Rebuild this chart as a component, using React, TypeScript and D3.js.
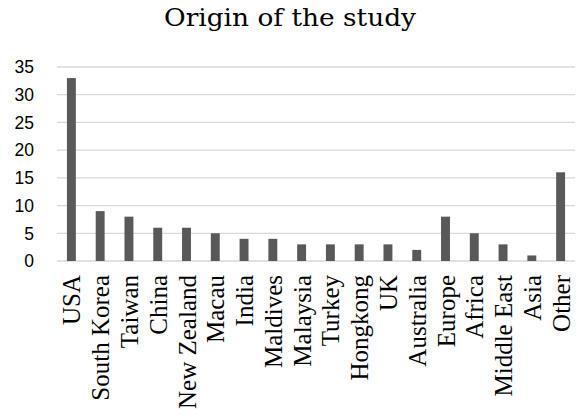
import React from "react";
import * as d3 from "d3";

const categories = [
  "USA", "South Korea", "Taiwan", "China", "New Zealand", "Macau", "India",
  "Maldives", "Malaysia", "Turkey", "Hongkong", "UK", "Australia", "Europe",
  "Africa", "Middle East", "Asia", "Other",
];
const counts = [33, 9, 8, 6, 6, 5, 4, 4, 3, 3, 3, 3, 2, 8, 5, 3, 1, 16];
const yTicks = [0, 5, 10, 15, 20, 25, 30, 35];
const title = "Origin of the study";

const W = 579;
const H = 417;
const margin = { left: 57, right: 4, top: 67, bottom: 156 };

export default function App() {
  const x = d3
    .scaleBand<string>()
    .domain(categories)
    .range([margin.left, W - margin.right])
    .paddingInner(0.69)
    .paddingOuter(0.345);
  const y = d3.scaleLinear().domain([0, 35]).range([H - margin.bottom, margin.top]);

  return (
    <svg
      width={W}
      height={H}
      style={{ position: "absolute", left: 0, top: 0, background: "#fff" }}
    >
      <text
        x={290}
        y={26}
        textAnchor="middle"
        style={{ fontFamily: "'DejaVu Serif', serif", fontSize: 24 }}
        textLength={252}
        lengthAdjust="spacingAndGlyphs"
        fill="#000"
      >
        {title}
      </text>
      {yTicks.map((t) => (
        <g key={t}>
          <line
            x1={margin.left}
            x2={W - margin.right}
            y1={y(t)}
            y2={y(t)}
            stroke="#d9d9d9"
            strokeWidth={1.3}
          />
          <text
            x={34}
            y={y(t)}
            dy="0.36em"
            textAnchor="end"
            style={{ fontFamily: "'Liberation Sans', Arial, sans-serif", fontSize: 17.5 }}
            fill="#000"
          >
            {t}
          </text>
        </g>
      ))}
      {categories.map((c, i) => (
        <rect
          key={c}
          x={x(c)}
          y={y(counts[i])}
          width={x.bandwidth()}
          height={y(0) - y(counts[i])}
          fill="#595959"
        />
      ))}
      {categories.map((c) => {
        const cx = (x(c) ?? 0) + x.bandwidth() / 2 + 9;
        return (
          <text
            key={c}
            transform={`translate(${cx},275) rotate(-90)`}
            textAnchor="end"
            style={{ fontFamily: "'Liberation Serif'", fontSize: 25 }}
            fill="#000"
          >
            {c}
          </text>
        );
      })}
    </svg>
  );
}
